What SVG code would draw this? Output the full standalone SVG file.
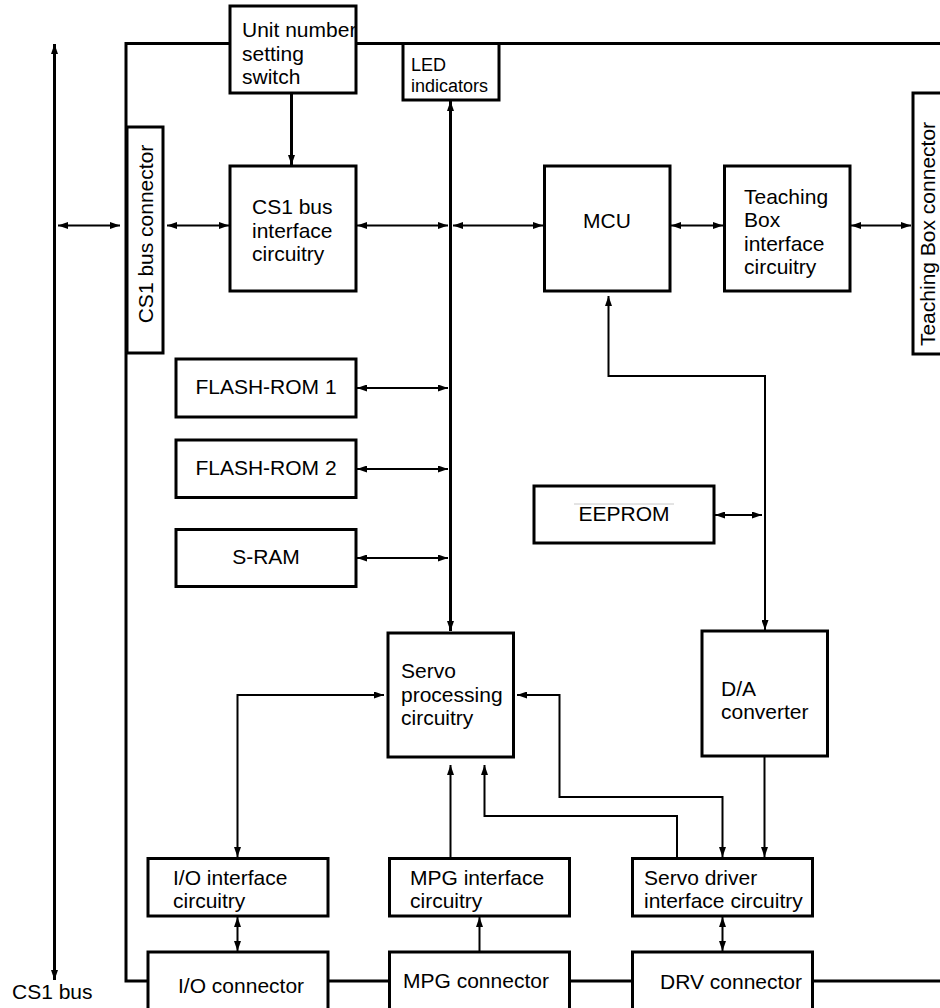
<svg xmlns="http://www.w3.org/2000/svg" width="940" height="1008" viewBox="0 0 940 1008">
<style>
.box{fill:#fff;stroke:#000;stroke-width:3}
.t{font-family:"Liberation Sans",Arial,sans-serif;font-size:21px;fill:#000}
.s{font-size:18px}
.c{text-anchor:middle}
.ln{fill:none;stroke:#000;stroke-width:2}
.bus{fill:none;stroke:#000;stroke-width:3}
</style>
<defs>
<marker id="ah" viewBox="0 0 10 7" refX="10" refY="3.5" markerWidth="10" markerHeight="7" markerUnits="userSpaceOnUse" orient="auto-start-reverse">
<path d="M0,0 L10,3.5 L0,7 z" fill="#000"/>
</marker>
</defs>
<g id="frame">
<path class="bus" d="M230,43.5 H126 V981 H148 M356,43.5 H940 M328,981 H389 M569,981 H632 M813,981 H940"/>
</g>
<g id="connectors">
<line class="bus" x1="54.5" y1="44" x2="54.5" y2="980" marker-start="url(#ah)" marker-end="url(#ah)"/>
<line class="ln" x1="58" y1="225.5" x2="120" y2="225.5" marker-start="url(#ah)" marker-end="url(#ah)"/>
<line class="ln" x1="167" y1="225.5" x2="229" y2="225.5" marker-start="url(#ah)" marker-end="url(#ah)"/>
<line class="ln" x1="357" y1="225.5" x2="448" y2="225.5" marker-start="url(#ah)" marker-end="url(#ah)"/>
<line class="ln" x1="453" y1="225.5" x2="543" y2="225.5" marker-start="url(#ah)" marker-end="url(#ah)"/>
<line class="ln" x1="671" y1="225.5" x2="723" y2="225.5" marker-start="url(#ah)" marker-end="url(#ah)"/>
<line class="ln" x1="851" y1="225.5" x2="911" y2="225.5" marker-start="url(#ah)" marker-end="url(#ah)"/>
<line class="bus" x1="291.5" y1="94" x2="291.5" y2="165" marker-end="url(#ah)"/>
<line class="bus" x1="450.5" y1="101" x2="450.5" y2="631" marker-start="url(#ah)" marker-end="url(#ah)"/>
<line class="ln" x1="357" y1="388" x2="448" y2="388" marker-start="url(#ah)" marker-end="url(#ah)"/>
<line class="ln" x1="357" y1="469" x2="448" y2="469" marker-start="url(#ah)" marker-end="url(#ah)"/>
<line class="ln" x1="357" y1="558" x2="448" y2="558" marker-start="url(#ah)" marker-end="url(#ah)"/>
<path class="ln" d="M765,630 V376 H608.5 V296" marker-start="url(#ah)" marker-end="url(#ah)"/>
<line class="ln" x1="715" y1="515" x2="762" y2="515" marker-start="url(#ah)" marker-end="url(#ah)"/>
<path class="ln" d="M384,695 H237.5 V857" marker-start="url(#ah)" marker-end="url(#ah)"/>
<path class="ln" d="M722.5,857 V797 H559.5 V695 H517" marker-start="url(#ah)" marker-end="url(#ah)"/>
<path class="ln" d="M677,858 V816 H484.5 V765" marker-end="url(#ah)"/>
<line class="ln" x1="450.5" y1="858" x2="450.5" y2="765" marker-end="url(#ah)"/>
<line class="ln" x1="764.5" y1="757" x2="764.5" y2="857" marker-end="url(#ah)"/>
<line class="ln" x1="237.5" y1="917" x2="237.5" y2="951" marker-start="url(#ah)" marker-end="url(#ah)"/>
<line class="ln" x1="479.5" y1="952" x2="479.5" y2="917" marker-end="url(#ah)"/>
<line class="ln" x1="722.5" y1="917" x2="722.5" y2="951" marker-start="url(#ah)" marker-end="url(#ah)"/>
</g>
<g id="unit-switch">
<rect class="box" x="230" y="6" width="126" height="87"/>
<text class="t" x="242" y="37">Unit number</text>
<text class="t" x="242" y="60.5">setting</text>
<text class="t" x="242" y="84">switch</text>
</g>
<g id="led">
<rect class="box" x="403" y="43.5" width="96" height="56.5"/>
<text class="t s" x="411" y="71">LED</text>
<text class="t s" x="411" y="92">indicators</text>
</g>
<g id="cs1-connector">
<rect class="box" x="127" y="127" width="36" height="226"/>
<text class="t c" transform="translate(153,234) rotate(-90)">CS1 bus connector</text>
</g>
<g id="cs1-interface">
<rect class="box" x="230" y="166" width="126" height="125"/>
<text class="t" x="252" y="214">CS1 bus</text>
<text class="t" x="252" y="238">interface</text>
<text class="t" x="252" y="261">circuitry</text>
</g>
<g id="mcu">
<rect class="box" x="544.5" y="166" width="125.5" height="125"/>
<text class="t c" x="607" y="228">MCU</text>
</g>
<g id="tb-interface">
<rect class="box" x="724.5" y="166" width="125.5" height="125"/>
<text class="t" x="744" y="204">Teaching</text>
<text class="t" x="744" y="227">Box</text>
<text class="t" x="744" y="251">interface</text>
<text class="t" x="744" y="274">circuitry</text>
</g>
<g id="tb-connector">
<rect class="box" x="913" y="93" width="40" height="261"/>
<text class="t c" transform="translate(935,234) rotate(-90)">Teaching Box connector</text>
</g>
<g id="flash1">
<rect class="box" x="176" y="359" width="180" height="58"/>
<text class="t c" x="266" y="394">FLASH-ROM 1</text>
</g>
<g id="flash2">
<rect class="box" x="176" y="440" width="180" height="57.5"/>
<text class="t c" x="266" y="475">FLASH-ROM 2</text>
</g>
<g id="sram">
<rect class="box" x="176" y="529.5" width="180" height="57"/>
<text class="t c" x="266" y="563.5">S-RAM</text>
</g>
<g id="eeprom">
<rect class="box" x="534" y="486" width="180" height="57"/>
<line x1="574" y1="504" x2="674" y2="504" stroke="#c8c8c8" stroke-width="1"/>
<text class="t c" x="624" y="521">EEPROM</text>
</g>
<g id="servo-processing">
<rect class="box" x="388" y="633" width="125.5" height="124"/>
<text class="t" x="401" y="678">Servo</text>
<text class="t" x="401" y="702">processing</text>
<text class="t" x="401" y="725">circuitry</text>
</g>
<g id="da-converter">
<rect class="box" x="702" y="631" width="125.5" height="125"/>
<text class="t" x="721" y="696">D/A</text>
<text class="t" x="721" y="719">converter</text>
</g>
<g id="io-interface">
<rect class="box" x="148" y="858.5" width="180" height="57.5"/>
<text class="t" x="173" y="885">I/O interface</text>
<text class="t" x="173" y="908">circuitry</text>
</g>
<g id="mpg-interface">
<rect class="box" x="389.5" y="858.5" width="180" height="57.5"/>
<text class="t" x="410" y="885">MPG interface</text>
<text class="t" x="410" y="908">circuitry</text>
</g>
<g id="servo-driver">
<rect class="box" x="632.5" y="858.5" width="180" height="57.5"/>
<text class="t" x="644" y="885">Servo driver</text>
<text class="t" x="644" y="908">interface circuitry</text>
</g>
<g id="io-connector">
<rect class="box" x="148" y="952" width="180" height="62"/>
<text class="t" x="178" y="993">I/O connector</text>
</g>
<g id="mpg-connector">
<rect class="box" x="389.5" y="952" width="180" height="62"/>
<text class="t" x="403" y="988">MPG connector</text>
</g>
<g id="drv-connector">
<rect class="box" x="632.5" y="952" width="180" height="62"/>
<text class="t" x="660" y="989">DRV connector</text>
</g>
<g id="cs1-bus-label">
<text class="t" x="12" y="999">CS1 bus</text>
</g>
</svg>
